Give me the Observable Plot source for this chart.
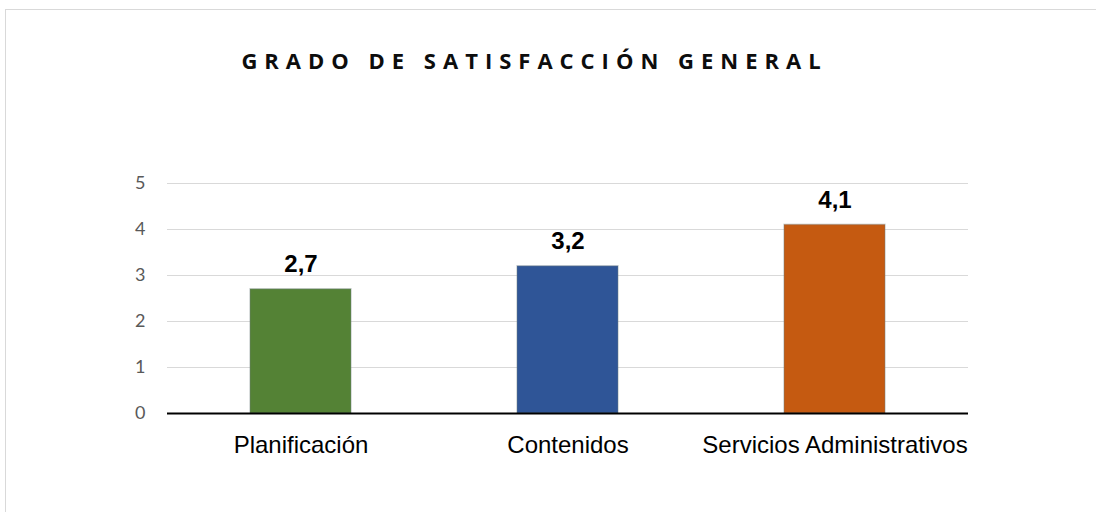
<!DOCTYPE html>
<html>
<head>
<meta charset="utf-8">
<script src="https://cdn.jsdelivr.net/npm/d3@7"></script>
<script src="https://cdn.jsdelivr.net/npm/@observablehq/plot@0.6"></script>
<style>
  html, body { margin: 0; padding: 0; background: #fff; }
  #wrap { position: relative; width: 1096px; height: 512px; overflow: hidden; background: #fff; }
  #frame { position: absolute; left: 5px; top: 9px; width: 1200px; height: 600px;
           border-top: 1.5px solid #d9d9d9; border-left: 1.5px solid #d9d9d9; }
  #title { position: absolute; left: 0; width: 1069px; top: 45px; text-align: center;
           font-family: "Open Sans", sans-serif; font-weight: 700; font-size: 22px;
           letter-spacing: 7px; color: #0d0d0d; white-space: nowrap; }
  #chart { position: absolute; left: 0; top: 0; }
</style>
</head>
<body>
<div id="wrap">
  <div id="frame"></div>
  <div id="title">GRADO DE SATISFACCIÓN GENERAL</div>
  <div id="chart"></div>
</div>
<script>
const categories = ["Planificación", "Contenidos", "Servicios Administrativos"];
const values = [2.7, 3.2, 4.1];
const colors = ["#548235", "#2f5597", "#c55a11"];
const yTicks = [0, 1, 2, 3, 4, 5];

const data = categories.map((c, i) => ({category: c, value: values[i], color: colors[i]}));
const fmt = v => d3.format(".1f")(v).replace(".", ",");

const chart = Plot.plot({
  width: 1096,
  height: 512,
  marginLeft: 167,
  marginRight: 128,
  marginTop: 183,
  marginBottom: 99,
  style: {background: "transparent", overflow: "visible"},
  x: {domain: categories, paddingInner: 0.62, paddingOuter: 0.31, label: null},
  y: {domain: [0, 5], ticks: yTicks, label: null},
  marks: [
    Plot.gridY(yTicks, {stroke: "#d9d9d9", strokeOpacity: 1, strokeWidth: 1.2}),
    Plot.barY(data, {x: "category", y: "value", fill: "color", stroke: "#6f7f80", strokeOpacity: 0.35, strokeWidth: 1.5}),
    Plot.ruleY([0], {stroke: "#000", strokeWidth: 2}),
    Plot.text(data, {x: "category", y: "value", text: d => fmt(d.value), dy: -25,
      fontFamily: "Liberation Sans, Arial, sans-serif", fontWeight: "bold", fontSize: 24, fill: "#000"}),
    Plot.axisY(yTicks, {tickSize: 0, tickPadding: 22, fontSize: 18, fontFamily: "Lato, sans-serif",
      color: "#595959", tickFormat: d => String(d), label: null}),
    Plot.axisX({tickSize: 0, tickPadding: 22, fontSize: 24, fontFamily: "Liberation Sans, Arial, sans-serif",
      color: "#000", label: null})
  ]
});
document.getElementById("chart").appendChild(chart);
</script>
</body>
</html>
